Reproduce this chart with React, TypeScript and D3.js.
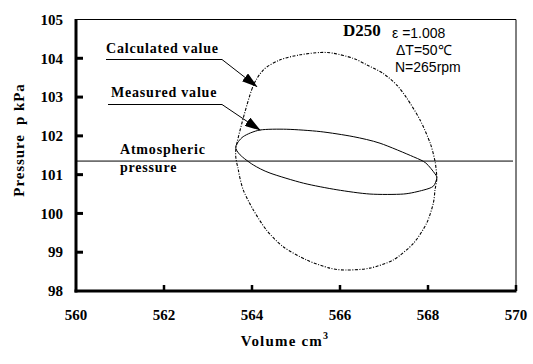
import * as React from 'react';
import * as d3 from 'd3';

const calcVolume = [
  563.64, 563.99, 564.26, 564.64, 565.09, 565.55, 565.85, 566.30, 566.61, 566.98,
  567.29, 567.52, 567.82, 568.05, 568.16, 568.20, 568.16, 568.12, 567.97, 567.67,
  567.21, 566.68, 566.15, 565.77, 565.24, 564.71, 564.33, 564.03, 563.80, 563.69,
];
const calcPressure = [
  101.71, 103.18, 103.70, 103.96, 104.09, 104.15, 104.13, 104.00, 103.83, 103.61,
  103.31, 102.97, 102.41, 101.81, 101.34, 100.91, 100.61, 100.26, 99.75, 99.23,
  98.80, 98.59, 98.54, 98.59, 98.80, 99.14, 99.57, 100.09, 100.61, 101.12,
];

const measVolume = [
  563.63, 563.80, 564.18, 564.79, 565.55, 566.30, 566.91, 567.67, 567.95, 568.16,
  568.20, 568.12, 567.89, 567.44, 566.68, 565.93, 565.17, 564.41, 564.03, 563.73,
];
const measPressure = [
  101.72, 101.98, 102.15, 102.17, 102.11, 101.98, 101.81, 101.46, 101.30, 101.02,
  100.91, 100.70, 100.60, 100.50, 100.50, 100.61, 100.78, 101.04, 101.25, 101.51,
];

const atmPressure = 101.35;

const xTicks = [560, 562, 564, 566, 568, 570];
const yTicks = [98, 99, 100, 101, 102, 103, 104, 105];

const W = 533;
const H = 364;
const serif = '"Liberation Serif", "Times New Roman", serif';
const sans = '"Liberation Sans", Arial, sans-serif';

const App = () => {
  const x = d3.scaleLinear().domain([560, 570]).range([76, 516]);
  const y = d3.scaleLinear().domain([98, 105]).range([291, 19.5]);

  const loop = d3.line<[number, number]>()
    .x(d => x(d[0]))
    .y(d => y(d[1]))
    .curve(d3.curveCardinalClosed.tension(0.2));

  const calcPts = calcVolume.map((v, i) => [v, calcPressure[i]] as [number, number]);
  const measPts = measVolume.map((v, i) => [v, measPressure[i]] as [number, number]);

  // arrow tips in data units
  const calcTip: [number, number] = [564.11, 103.27];
  const measTip: [number, number] = [564.18, 102.15];

  const x0 = x(560), x1 = x(570), yb = y(98), yt = y(105);

  const label = { fontFamily: serif, fontWeight: 'bold' as const, fontSize: 14, letterSpacing: 0.8 };

  return (
    <svg width={W} height={H} style={{ position: 'absolute', left: 0, top: 0, background: '#fff' }}>
      <defs>
        <marker id="arr" markerUnits="userSpaceOnUse" markerWidth="16" markerHeight="10"
          viewBox="0 0 16 10" refX="15" refY="5" orient="auto">
          <path d="M0,0 L16,5 L0,10 Z" fill="#000" />
        </marker>
      </defs>

      {/* frame */}
      <line x1={x0} x2={x1} y1={yt} y2={yt} stroke="#000" strokeWidth={1} />
      <line x1={x1} x2={x1} y1={yt} y2={yb} stroke="#000" strokeWidth={1} />
      <line x1={x0} x2={x0} y1={yt - 0.5} y2={yb + 1.5} stroke="#000" strokeWidth={3} />
      <line x1={x0 - 1.5} x2={x1 + 0.5} y1={yb} y2={yb} stroke="#000" strokeWidth={3} />

      {/* y ticks */}
      {yTicks.map(t => (
        <g key={'y' + t}>
          {t > 98 && t < 105 && (
            <line x1={x0} x2={x0 + 7} y1={y(t)} y2={y(t)} stroke="#000" strokeWidth={3} />
          )}
          <text x={63} y={y(t)} dy="0.35em" textAnchor="end" fontFamily={serif}
            fontWeight="bold" fontSize={15}>{t}</text>
        </g>
      ))}

      {/* x ticks */}
      {xTicks.map(t => (
        <g key={'x' + t}>
          {t > 560 && (
            <line x1={x(t)} x2={x(t)} y1={yb} y2={yb - 6} stroke="#000" strokeWidth={2.5} />
          )}
          <text x={x(t)} y={320} textAnchor="middle" fontFamily={serif}
            fontWeight="bold" fontSize={15}>{t}</text>
        </g>
      ))}

      {/* axis titles */}
      <text x={285} y={346} textAnchor="middle" {...label} fontSize={15} letterSpacing={1.2}>
        Volume cm<tspan dy={-7} fontSize={10}>3</tspan>
      </text>
      <text transform="translate(24,140) rotate(-90)" textAnchor="middle" {...label}
        fontSize={15} letterSpacing={0.9} xmlSpace="preserve">Pressure  p kPa</text>

      {/* atmospheric line */}
      <line x1={x0} x2={x1 - 3} y1={y(atmPressure)} y2={y(atmPressure)} stroke="#000" strokeWidth={1} />

      {/* loops */}
      <path d={loop(calcPts) || ''} fill="none" stroke="#000" strokeWidth={1.1}
        strokeDasharray="3 1.5 1 1.5" />
      <path d={loop(measPts) || ''} fill="none" stroke="#000" strokeWidth={1} />

      {/* annotations */}
      <text x={106} y={53} {...label}>Calculated value</text>
      <line x1={106} x2={222} y1={59.5} y2={59.5} stroke="#000" strokeWidth={1} />
      <line x1={222} y1={59.5} x2={x(calcTip[0])} y2={y(calcTip[1])} stroke="#000"
        strokeWidth={1} markerEnd="url(#arr)" />

      <text x={111} y={97} {...label}>Measured value</text>
      <line x1={108} x2={222} y1={104.5} y2={104.5} stroke="#000" strokeWidth={1} />
      <line x1={222} y1={104.5} x2={x(measTip[0])} y2={y(measTip[1])} stroke="#000"
        strokeWidth={1} markerEnd="url(#arr)" />

      <text x={120} y={154} {...label}>Atmospheric</text>
      <text x={120} y={172} {...label}>pressure</text>

      <text x={343} y={36} fontFamily={serif} fontWeight="bold" fontSize={17}>D250</text>
      <text x={392} y={38} fontFamily={sans} fontSize={14}>ε =1.008</text>
      <text x={396} y={55} fontFamily={sans} fontSize={14}>ΔT=50℃</text>
      <text x={395} y={72} fontFamily={sans} fontSize={14}>N=265rpm</text>
    </svg>
  );
};

export default App;
